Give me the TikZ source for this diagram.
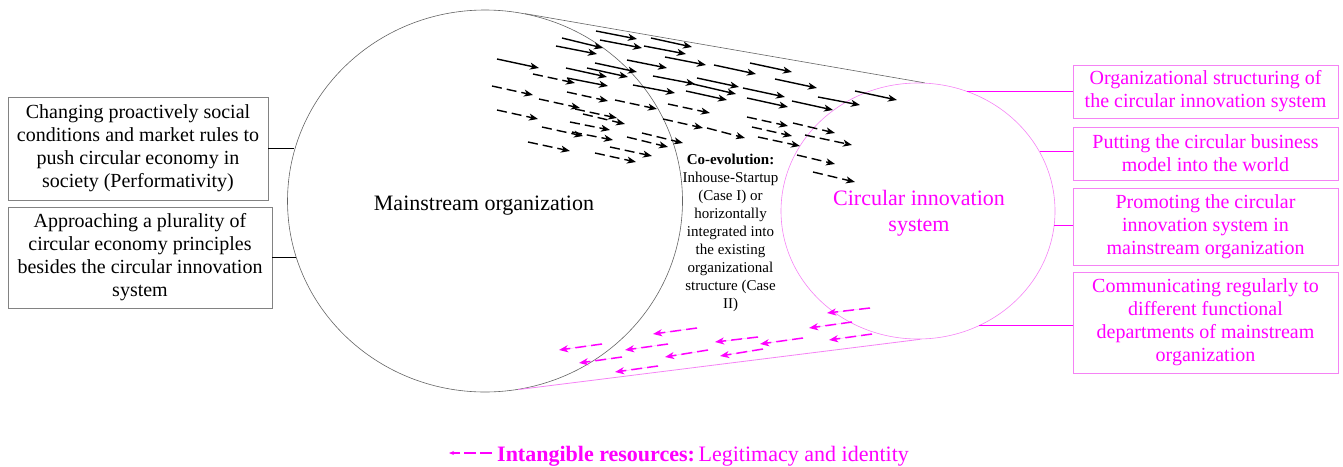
\documentclass[tikz,border=0pt]{standalone}
\usepackage{fontspec}
\setmainfont{Liberation Serif}
\usetikzlibrary{shapes.geometric,arrows.meta}
\definecolor{mag}{RGB}{255,0,255}
\definecolor{magline}{RGB}{245,130,245}
\definecolor{boxgray}{RGB}{130,130,130}
\definecolor{ellgray}{RGB}{100,100,100}
\begin{document}
\begin{tikzpicture}[x=1pt,y=-1pt,
  boxtext/.style={font=\fontsize{20}{23}\selectfont, align=center, inner sep=0pt},
  lbox/.style={boxtext, draw=boxgray, line width=0.8pt},
  rbox/.style={boxtext, draw=magline, line width=0.8pt, text=mag},
  blk/.style={-{Stealth[length=9pt,width=7pt,inset=2.5pt]}, line width=1.4pt},
  dsh/.style={blk, dash pattern=on 10pt off 5pt},
  magarr/.style={-{Stealth[length=9pt,width=7pt,inset=2.5pt]}, line width=1.5pt, draw=mag, fill=mag, dash pattern=on 11pt off 5pt},
]
\useasboundingbox (0,0) rectangle (1343,466);

% ellipses
\node[draw=ellgray, line width=0.6pt, ellipse, minimum width=395pt, minimum height=382pt, inner sep=0pt] (main) at (485,201) {};
\node[font=\fontsize{22}{25}\selectfont] (mainlbl) at (484,206) {Mainstream organization};
\node[draw=magline, line width=0.6pt, ellipse, minimum width=274pt, minimum height=256pt, inner sep=0pt] (cis) at (918,211) {};
\node[font=\fontsize{22}{26}\selectfont, text=mag, align=center] (cislbl) at (919,213) {Circular innovation\\system};

% tangent lines
\draw[ellgray, line width=0.6pt] (main.78) -- (cis.87);
\draw[magline, line width=0.8pt] (main.280) -- (cis.271);

% left boxes
\node[lbox, minimum width=260pt, minimum height=103pt] (lb1) at (138,148.5)
  {Changing proactively social\\conditions and market rules to\\push circular economy in\\society (Performativity)};
\node[lbox, minimum width=264pt, minimum height=101pt] (lb2) at (140,257.5)
  {Approaching a plurality of\\circular economy principles\\besides the circular innovation\\system};
\draw[line width=0.8pt] (lb1.east) -- (lb1.east -| main.165);
\draw[line width=0.8pt] (lb2.east) -- (lb2.east -| main.197);

% right boxes
\node[rbox, minimum width=265pt, minimum height=53pt] (rb1) at (1205.5,91.5)
  {Organizational structuring of\\the circular innovation system};
\node[rbox, minimum width=265pt, minimum height=53pt] (rb2) at (1205.5,153.5)
  {Putting the circular business\\model into the world};
\node[rbox, minimum width=265pt, minimum height=77pt] (rb3) at (1205.5,226.5)
  {Promoting the circular\\innovation system in\\mainstream organization};
\node[rbox, minimum width=265pt, minimum height=101pt] (rb4) at (1205.5,322.5)
  {Communicating regularly to\\different functional\\departments of mainstream\\organization};
\draw[mag, line width=0.8pt] (cis.68) -- (cis.68 -| rb1.west);
\draw[mag, line width=0.8pt] (cis.26) -- (cis.26 -| rb2.west);
\draw[mag, line width=0.8pt] (cis.354) -- (cis.354 -| rb3.west);
\draw[mag, line width=0.8pt] (cis.298) -- (cis.298 -| rb4.west);

% centre text
\node[font=\fontsize{15}{18}\selectfont, align=center, inner sep=0pt, anchor=north] (coev) at (730.5,153.7)
  {\textbf{Co-evolution:}\\Inhouse-Startup\\(Case I) or\\horizontally\\integrated into\\the existing\\organizational\\structure (Case\\II)};

% solid black arrows
\foreach \a/\b/\c/\d in {
  596/31/637/39, 651/38/692/47, 562/38/603/48, 600/40/642/48, 556/46/597/54,
  644/46/686/54, 665/57/706/65, 627/60/667/68, 497/59/539/68, 595/63/637/72,
  566/68/607/77, 587/68/628/77, 567/78/608/86, 653/76/695/84, 633/85/675/93,
  714/65/756/74, 750/63/792/72, 697/78/739/87, 693/84/736/94, 686/91/727/100,
  743/88/785/97, 747/98/788/107, 775/79/817/88, 792/101/833/110, 818/97/860/105,
  855/91/897/100}
  \draw[blk] (\a,\b) -- (\c,\d);

% dashed black arrows
\foreach \a/\b/\c/\d in {
  533/74/575/83, 492/86/533/95, 539/99/580/108, 567/92/608/101, 497/110/538/119,
  575/109/617/118, 583/114/625/124, 570/122/610/130, 542/127/583/136, 572/132/613/140,
  528/142/570/151, 610/147/652/156, 595/153/636/162, 627/137/668/147, 642/133/683/143,
  615/100/657/109, 663/119/703/128, 668/104/710/113, 707/128/745/138, 747/117/788/126,
  752/127/792/136, 793/123/835/133, 758/137/800/146, 805/135/852/145, 797/155/835/164,
  813/172/855/182}
  \draw[dsh] (\a,\b) -- (\c,\d);

% magenta dashed arrows
\foreach \a/\b/\c/\d in {
  870/308/827/313, 852/322/809/328, 872/334/829/340, 697/328/653/334, 758/337/715/342,
  803/338/760/344, 602/344/559/350, 668/344/625/350, 763/349/720/356, 708/350/665/357,
  622/357/579/363, 658/366/615/372}
  \draw[magarr] (\a,\b) -- (\c,\d);

% legend
\node[font=\fontsize{22}{25}\selectfont, text=mag, anchor=base west, inner sep=0pt] (leg) at (497,461)
  {\textbf{Intangible resources:}\,Legitimacy and identity};
\coordinate (legA) at (492,453);
\coordinate (legB) at (449,453);
\draw[-{Stealth[length=5pt,width=4pt]}, mag, line width=1.2pt, dash pattern=on 12pt off 4pt] (legA) -- (legB);
\end{tikzpicture}
\end{document}
